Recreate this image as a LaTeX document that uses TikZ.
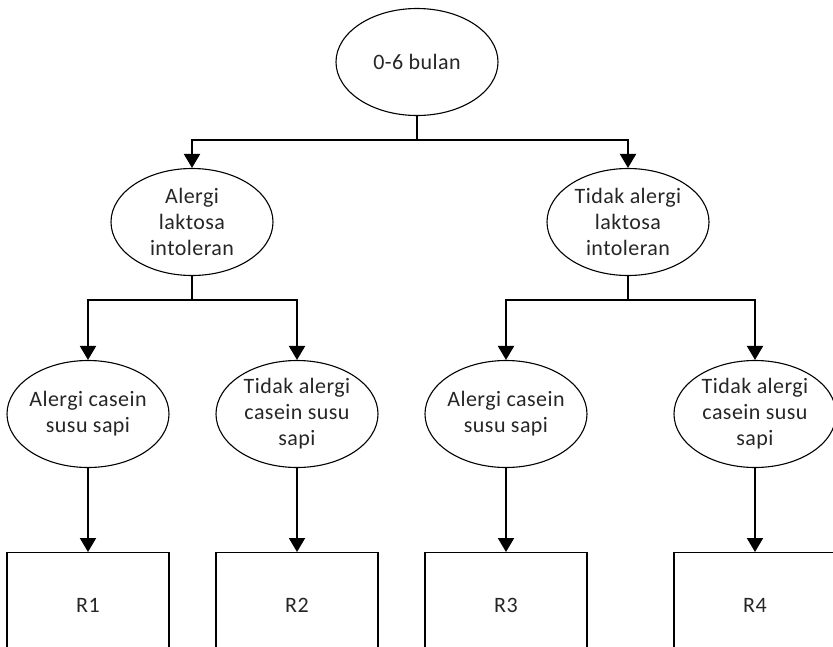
\documentclass[tikz,border=0pt]{standalone}
\usepackage{fontspec}
\setmainfont{Carlito}[LetterSpace=2]
\usetikzlibrary{shapes.geometric,arrows.meta}
\begin{document}
\begin{tikzpicture}[x=1pt,y=-1pt,
  ell/.style={draw, ellipse, line width=1.1pt, minimum width=162pt, minimum height=107pt, inner sep=0pt},
  lbl/.style={align=center, font=\fontsize{22}{26}\selectfont, text=black!85, inner sep=0pt},
  res/.style={draw, line width=1.1pt, minimum width=162pt, minimum height=110pt, anchor=north, inner sep=0pt},
  link/.style={line width=2pt},
  arr/.style={line width=2pt, -{Triangle[length=14pt,width=16pt]}}]
\useasboundingbox (0,0) rectangle (833,646);
\clip (0,0) rectangle (833,646);

% root
\node[ell] (root) at (417,62) {};
\node[lbl] at (root) {0-6 bulan};

% second level
\node[ell] (lak) at (192,222) {};
\node[lbl] at (lak) {Alergi\\laktosa\\intoleran};
\node[ell] (nlak) at (628,222) {};
\node[lbl] at (nlak) {Tidak alergi\\laktosa\\intoleran};

% third level
\node[ell] (c1) at (88,414) {};
\node[lbl] at (c1) {Alergi casein\\susu sapi};
\node[ell] (c2) at (297,414) {};
\node[lbl] at (c2) {Tidak alergi\\casein susu\\sapi};
\node[ell] (c3) at (506,414) {};
\node[lbl] at (c3) {Alergi casein\\susu sapi};
\node[ell] (c4) at (755,414) {};
\node[lbl] at (c4) {Tidak alergi\\casein susu\\sapi};

% results
\node[res] (r1) at (88,552) {};
\node[lbl] at (88,605) {R1};
\node[res] (r2) at (297,552) {};
\node[lbl] at (297,605) {R2};
\node[res] (r3) at (506,552) {};
\node[lbl] at (506,605) {R3};
\node[res] (r4) at (755,552) {};
\node[lbl] at (755,605) {R4};

% junctions
\coordinate (j0) at (417,140);
\coordinate (j1) at (192,300);
\coordinate (j2) at (628,300);

% connectors
\draw[link] (root.south) -- (j0);
\draw[arr] (j0) -| (lak.north);
\draw[arr] (j0) -| (nlak.north);
\draw[link] (lak.south) -- (j1);
\draw[arr] (j1) -| (c1.north);
\draw[arr] (j1) -| (c2.north);
\draw[link] (nlak.south) -- (j2);
\draw[arr] (j2) -| (c3.north);
\draw[arr] (j2) -| (c4.north);
\draw[arr] (c1.south) -- (r1.north);
\draw[arr] (c2.south) -- (r2.north);
\draw[arr] (c3.south) -- (r3.north);
\draw[arr] (c4.south) -- (r4.north);
\end{tikzpicture}
\end{document}
